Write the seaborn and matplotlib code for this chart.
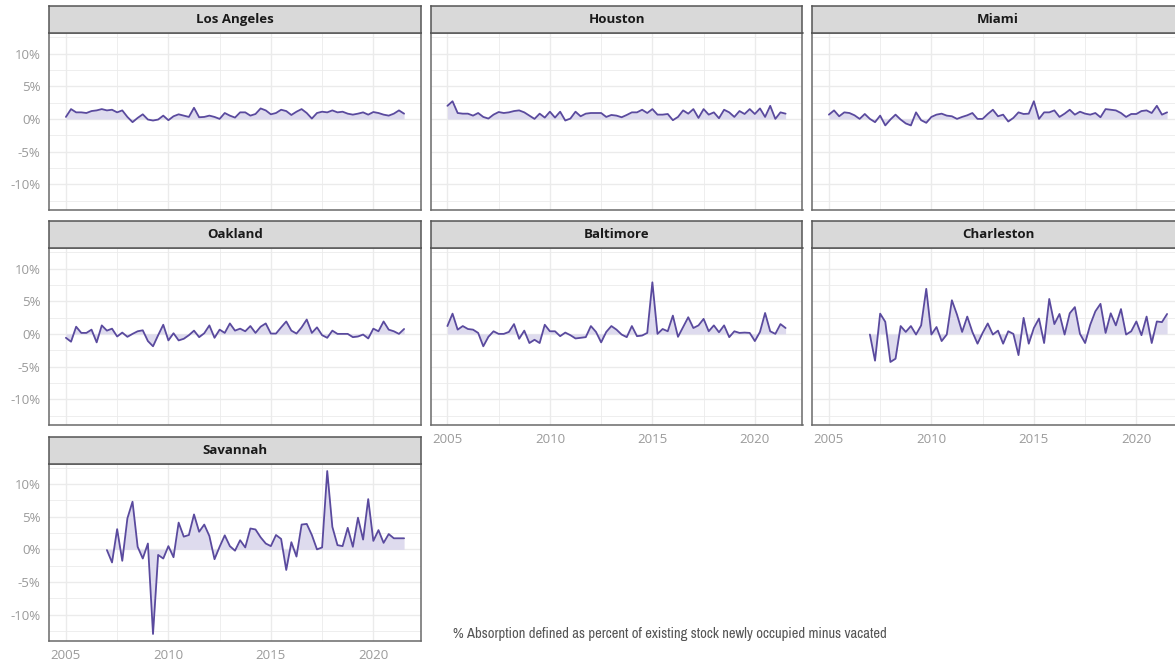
import numpy as np
import pandas as pd
import matplotlib
matplotlib.use("Agg")
import matplotlib.pyplot as plt
from matplotlib import font_manager
import seaborn as sns

# ---------------- data (quarterly % absorption) ----------------
cities = ["Los Angeles", "Houston", "Miami", "Oakland", "Baltimore", "Charleston", "Savannah"]

q_2005 = np.arange(2005.0, 2021.51, 0.25)   # 2005Q1 .. 2021Q3
q_2007 = np.arange(2007.0, 2021.51, 0.25)   # 2007Q1 .. 2021Q3

los_angeles = [0.3, 1.5, 1.0, 1.0, 0.9, 1.2, 1.3, 1.5, 1.3, 1.4, 1.0, 1.3, 0.3, -0.5, 0.15, 0.7,
               -0.1, -0.25, -0.1, 0.5, -0.2, 0.4, 0.7, 0.5, 0.3, 1.7, 0.25, 0.3, 0.5, 0.3, 0.0, 0.9,
               0.5, 0.2, 1.0, 1.0, 0.5, 0.75, 1.6, 1.3, 0.7, 0.9, 1.4, 1.2, 0.6, 1.1, 1.5, 0.9,
               0.05, 0.9, 1.1, 1.0, 1.3, 1.0, 1.1, 0.8, 0.65, 0.8, 1.0, 0.65, 1.05, 0.9, 0.65, 0.5,
               0.8, 1.3, 0.8]
houston = [2.0, 2.7, 0.9, 0.8, 0.8, 0.5, 0.9, 0.3, 0.05, 0.65, 1.05, 0.9, 1.0, 1.2, 1.3, 1.0,
           0.5, 0.0, 0.8, 0.2, 1.1, 0.2, 1.1, -0.25, 0.05, 1.1, 0.4, 0.8, 0.9, 0.9, 0.9, 0.3,
           0.6, 0.5, 0.25, 0.6, 1.0, 1.0, 1.4, 0.9, 1.5, 0.65, 0.65, 0.75, -0.2, 0.3, 1.3, 0.8,
           1.5, 0.15, 1.5, 0.65, 1.0, 0.1, 1.4, 1.0, 0.3, 1.2, 0.75, 1.5, 0.75, 1.6, 0.3, 2.0,
           0.0, 1.0, 0.8]
miami = [0.65, 1.3, 0.4, 1.0, 0.9, 0.55, 0.0, 0.75, 0.0, -0.5, 0.5, -1.0, -0.1, 0.65, -0.1, -0.7,
         -1.0, 1.0, -0.2, -0.6, 0.3, 0.65, 0.8, 0.5, 0.4, 0.0, 0.3, 0.55, 0.9, 0.0, 0.0, 0.75,
         1.4, 0.4, 0.65, -0.4, 0.15, 1.0, 0.75, 0.8, 2.7, 0.0, 1.0, 1.0, 1.3, 0.3, 0.8, 1.4,
         0.65, 1.1, 0.8, 0.65, 0.9, 0.25, 1.5, 1.4, 1.3, 0.9, 0.3, 0.75, 0.75, 1.2, 1.3, 0.9,
         2.0, 0.65, 1.0]
oakland = [-0.6, -1.2, 1.1, 0.15, 0.15, 0.65, -1.3, 1.3, 0.5, 0.8, -0.4, 0.2, -0.45, 0.0, 0.4, 0.55,
           -1.1, -1.9, -0.2, 1.4, -1.0, 0.1, -1.0, -0.75, -0.2, 0.5, -0.5, 0.1, 1.3, -0.6, 0.65, 0.15,
           1.6, 0.5, 0.8, 0.4, 1.2, 0.15, 1.1, 1.6, 0.05, 0.05, 1.0, 1.9, 0.5, 0.05, 1.0, 2.2,
           0.15, 1.0, -0.2, -0.6, 0.5, 0.0, 0.0, 0.0, -0.5, -0.4, -0.1, -0.7, 0.8, 0.4, 1.9, 0.65,
           0.4, 0.0, 0.75]
baltimore = [1.2, 3.1, 0.65, 1.2, 0.75, 0.65, 0.15, -1.9, -0.45, 0.4, 0.0, 0.0, 0.3, 1.5, -0.75, 0.5,
             -1.4, -0.9, -1.4, 1.4, 0.4, 0.4, -0.35, 0.2, -0.2, -0.7, -0.6, -0.5, 1.2, 0.3, -1.3, 0.3,
             1.2, 0.65, -0.1, -0.5, 1.2, -0.35, -0.25, 0.15, 7.9, 0.0, 0.75, 0.4, 2.8, -0.45, 1.05, 2.55,
             0.9, 1.3, 2.3, 0.4, 1.3, 0.25, 1.3, -0.5, 0.4, 0.15, 0.2, 0.15, -1.1, 0.3, 3.2, 0.4,
             0.0, 1.5, 0.9]
charleston = [-0.1, -4.1, 3.1, 1.85, -4.3, -3.8, 1.2, 0.3, 1.2, -0.1, 1.3, 6.9, -0.1, 1.05, -1.1, -0.1,
              5.15, 2.95, 0.3, 2.65, 0.3, -1.5, 0.15, 1.6, -0.1, 0.5, -1.5, 0.4, 0.0, -3.25, 2.45, -1.5,
              0.9, 2.35, -1.4, 5.35, 1.5, 3.05, -0.1, 3.15, 4.1, 0.0, -1.4, 1.4, 3.45, 4.6, 0.15, 3.15,
              1.3, 3.8, -0.1, 0.4, 1.9, -0.2, 2.65, -1.4, 1.9, 1.8, 3.05]
savannah = [-0.1, -2.0, 3.1, -1.75, 4.75, 7.3, 0.4, -1.4, 0.9, -12.95, -0.85, -1.4, 0.5, -1.2, 4.1, 1.95,
            2.2, 5.35, 2.7, 3.8, 2.05, -1.5, 0.4, 2.15, 0.5, -0.2, 1.4, 0.3, 3.2, 3.05, 1.85, 0.9,
            0.5, 2.2, 1.6, -3.15, 1.1, -1.1, 3.8, 3.9, 2.2, 0.0, 0.3, 12.0, 3.45, 0.65, 0.5, 3.3,
            0.4, 4.85, 1.5, 7.7, 1.3, 2.95, 1.0, 2.35, 1.7, 1.7, 1.7]

values = [los_angeles, houston, miami, oakland, baltimore, charleston, savannah]
quarters = [q_2005, q_2005, q_2005, q_2005, q_2005, q_2007, q_2007]

x_ticks = [2005, 2010, 2015, 2020]
x_tick_labels = ["2005", "2010", "2015", "2020"]
y_ticks = [-10, -5, 0, 5, 10]
y_tick_labels = ["-10%", "-5%", "0%", "5%", "10%"]
caption = "% Absorption defined as percent of existing stock newly occupied minus vacated"

df = pd.concat([pd.DataFrame({"city": c, "quarter": q, "absorption": v})
                for c, q, v in zip(cities, quarters, values)], ignore_index=True)

# ---------------- style ----------------
sns.set_style("white")
plt.rcParams["font.family"] = ["Open Sans", "DejaVu Sans"]

LINE = "#5A4A9E"
FILL = "#DEDBEE"
GRID = "#EBEBEB"
BORDER = "#6A6A6A"
TICKTXT = "#9A9A9A"

W, H = 1175, 664
fig = plt.figure(figsize=(W / 100, H / 100), dpi=100)

col_left = [49, 430.5, 812]
panel_w = 372
strip_top = [5.5, 220.5, 436.5]
strip_bot = [33, 248, 463.5]
plot_bot = [210, 425, 640.5]

def fr(x0, y0, x1, y1):
    return [x0 / W, 1 - y1 / H, (x1 - x0) / W, (y1 - y0) / H]

bottom_of_col = {0: 2, 1: 1, 2: 1}

for i, city in enumerate(cities):
    r, c = divmod(i, 3)
    x0 = col_left[c]
    ax = fig.add_axes(fr(x0, strip_bot[r], x0 + panel_w, plot_bot[r]))
    sub = df[df.city == city]
    ax.fill_between(sub.quarter, 0, sub.absorption, color=FILL, linewidth=0, zorder=2)
    sns.lineplot(data=sub, x="quarter", y="absorption", ax=ax, color=LINE,
                 linewidth=1.3, zorder=3, legend=False)
    ax.set_xlim(2004.175, 2022.325)
    ax.set_ylim(-13.95, 13.15)
    ax.set_xticks(x_ticks)
    ax.set_yticks(y_ticks)
    ax.set_xticks([2007.5, 2012.5, 2017.5], minor=True)
    ax.set_yticks([-12.5, -7.5, -2.5, 2.5, 7.5, 12.5], minor=True)
    ax.grid(True, which="major", color=GRID, linewidth=1.0, zorder=0)
    ax.grid(True, which="minor", color=GRID, linewidth=0.6, zorder=0)
    ax.set_axisbelow(True)
    ax.set_xlabel("")
    ax.set_ylabel("")
    for s in ax.spines.values():
        s.set_color(BORDER)
        s.set_linewidth(1.1)
    ax.tick_params(which="minor", length=0)
    if c == 0:
        ax.set_yticklabels(y_tick_labels)
        ax.tick_params(axis="y", which="major", length=4, width=0.9, color="#444444",
                       labelsize=9.5, labelcolor=TICKTXT, pad=2)
    else:
        ax.tick_params(axis="y", which="major", length=0, labelleft=False)
    if r == bottom_of_col[c]:
        ax.set_xticklabels(x_tick_labels)
        ax.tick_params(axis="x", which="major", length=4, width=0.9, color="#444444",
                       labelsize=9.5, labelcolor=TICKTXT, pad=2)
    else:
        ax.tick_params(axis="x", which="major", length=0, labelbottom=False)

    # strip
    sax = fig.add_axes(fr(x0, strip_top[r], x0 + panel_w, strip_bot[r]))
    sax.set_facecolor("#D9D9D9")
    sax.set_xticks([])
    sax.set_yticks([])
    for s in sax.spines.values():
        s.set_color("#555555")
        s.set_linewidth(1.1)
    sax.text(0.5, 0.5, city, transform=sax.transAxes, ha="center", va="center",
             fontsize=9.5, fontweight="bold", color="#1A1A1A")

# caption in a condensed face if one is installed
names = sorted({f.name for f in font_manager.fontManager.ttflist})
cond = [n for n in names if ("Narrow" in n or "Condensed" in n) and "Mono" not in n]
cap_family = cond[:1] + ["Roboto", "DejaVu Sans"]
cap = fig.text(453 / W, 1 - 634 / H, caption, ha="left", va="center", fontsize=10.5,
               color="#555555", family=cap_family)
# fit caption to the reference width (~434 px)
fig.canvas.draw()
wpx = cap.get_window_extent().width
size = 10.5 * 434.0 / wpx
cap.set_fontsize(min(size, 11.5))

fig.savefig("out.png", dpi=100)
